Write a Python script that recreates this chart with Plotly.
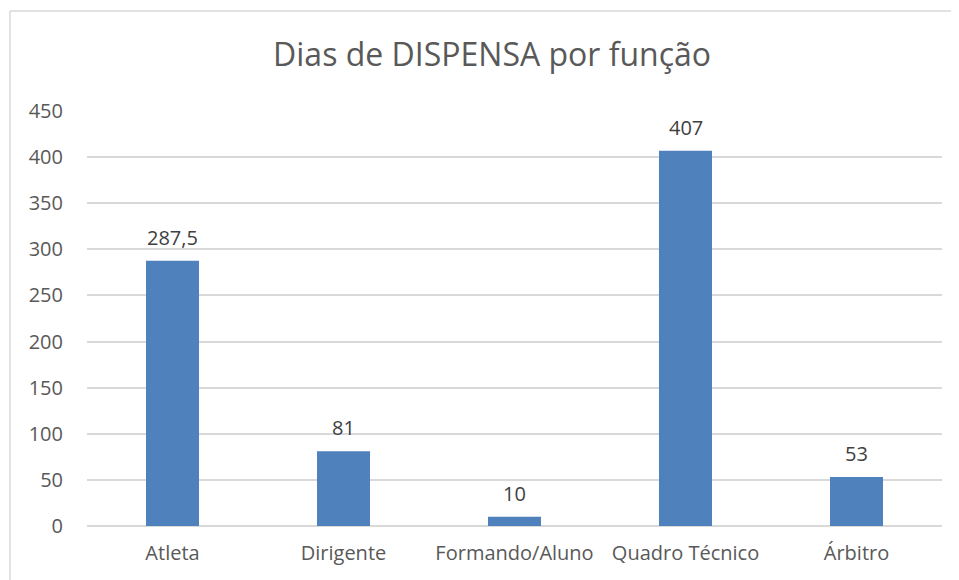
import plotly.graph_objects as go

categories = ["Atleta", "Dirigente", "Formando/Aluno", "Quadro Técnico", "Árbitro"]
values = [287.5, 81, 10, 407, 53]
labels = ["287,5", "81", "10", "407", "53"]

bar_color = "#4F81BD"
text_color = "#595959"
grid_color = "#D9D9D9"
font_family = "'Open Sans', Lato, sans-serif"

fig = go.Figure()

fig.add_trace(go.Bar(
    x=categories,
    y=values,
    marker=dict(color=bar_color, line=dict(width=0)),
    width=0.31,
    hoverinfo="x+y",
    showlegend=False,
))

# data labels above the bars
for cat, val, lab in zip(categories, values, labels):
    fig.add_annotation(
        x=cat, y=val, text=lab, showarrow=False,
        yanchor="bottom", yshift=8,
        font=dict(family=font_family, size=20, color="#404040"),
    )

# chart border (Excel style): only left and top edges are visible in the window
border = dict(color="#D9D9D9", width=1.5)
fig.add_shape(type="line", xref="paper", yref="paper",
              x0=-0.0901, x1=-0.0901, y0=-0.6, y1=1.241, line=border, layer="below")
fig.add_shape(type="line", xref="paper", yref="paper",
              x0=-0.0901, x1=1.6, y0=1.241, y1=1.241, line=border, layer="below")

# page body has an 8px margin, so the figure is a bit smaller than the window
fig.update_layout(
    width=951,
    height=572,
    margin=dict(l=79, r=17, t=103, b=54),
    paper_bgcolor="white",
    plot_bgcolor="white",
    title=dict(
        text="Dias de DISPENSA por função",
        x=0.509, xanchor="center",
        y=0.918, yanchor="middle",
        font=dict(family=font_family, size=32, color=text_color),
    ),
    font=dict(family=font_family, color=text_color),
    xaxis=dict(
        showgrid=False, showline=False, zeroline=False,
        ticks="", tickfont=dict(size=20, color=text_color),
        ticklabelstandoff=13,
    ),
    yaxis=dict(
        range=[0, 450], dtick=50,
        showgrid=True, gridcolor=grid_color, gridwidth=1.5,
        zeroline=True, zerolinecolor=grid_color, zerolinewidth=1.5,
        showline=False, ticks="",
        tickfont=dict(size=20, color=text_color),
        ticklabelstandoff=23,
    ),
    bargap=0.69,
)

fig.write_html("out.html")
